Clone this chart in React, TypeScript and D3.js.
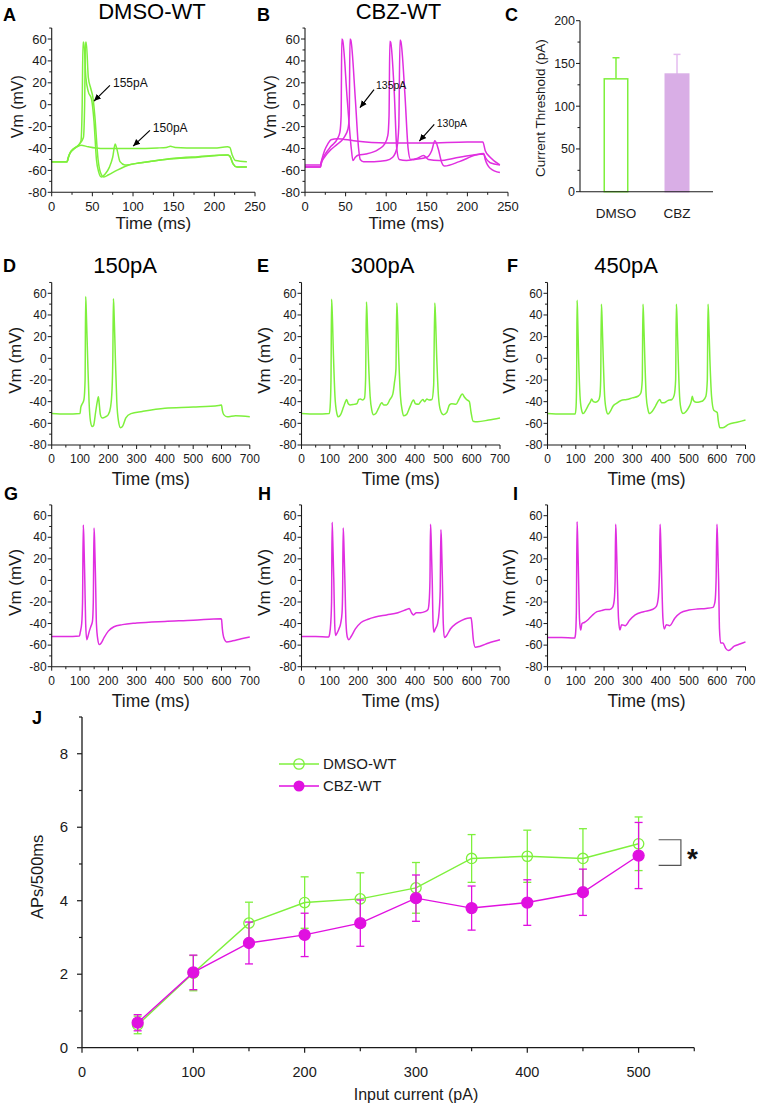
import React from "react";
import * as d3 from "d3";

type Pt = [number, number];

const FONT = '"Liberation Sans", Arial, Helvetica, sans-serif';
const GREEN = "#7ef03c";
const MAGENTA = "#e02ee0";
const J_MAGENTA = "#e010e0";
const INK = "#1a1a1a";

// ---------- Panel A: DMSO-WT threshold traces (t ms, Vm mV) ----------
const A_150pA: Pt[] = [[0,-52],[19,-52],[20,-50],[22,-45],[27,-40],[32,-38],[36,-37],[45,-38.5],[60,-40],[80,-40],[100,-40],[130,-39.5],[141,-39],[146,-38],[152,-39],[180,-39.5],[200,-39.5],[216,-38.5],[219,-39],[222,-46],[226,-51],[240,-52]];
const A_155pA_1: Pt[] = [[0,-52],[19,-52],[20,-49],[22,-45],[28,-40],[33,-37],[36,-33],[37.5,0],[38.5,57],[39.5,57],[42,25],[45,12],[49,5],[52,-15],[55,-50],[58,-62],[61,-66],[66,-63],[71,-57],[75,-48],[78,-36],[80,-40],[84,-52],[90,-55],[110,-53],[140,-50],[180,-48],[216,-46],[219,-47],[223,-54],[228,-57],[240,-57]];
const A_155pA_2: Pt[] = [[0,-52],[19,-52],[20,-49],[22,-45],[28,-40],[34,-36],[39,-30],[40.5,0],[41.5,57],[42.5,57],[45,25],[48,15],[51,5],[53,-10],[57,-50],[60,-62],[64,-66],[70,-64],[80,-60],[95,-55],[120,-52],[150,-49],[180,-47.5],[216,-46],[219,-47],[223,-54],[228,-57],[240,-57]];

// ---------- Panel B: CBZ-WT threshold traces ----------
const B_130pA: Pt[] = [[0,-55],[19,-55],[20,-52],[24,-42],[28,-36],[32,-32],[40,-31],[60,-33],[100,-35],[150,-35],[200,-34],[219,-34],[222,-42],[228,-48],[240,-55]];
const B_135pA_1: Pt[] = [[0,-57],[19,-57],[20,-53],[25,-45],[32,-38],[40,-31],[43,-25],[44.5,-10],[45.3,60],[46.3,59],[52,5],[57,-40],[59,-51],[62,-48],[66,-46],[75,-45],[90,-41],[98,-36],[102,-28],[103.5,-10],[104.5,58],[105.5,57],[110,10],[113,-40],[116,-50],[125,-51],[135,-50],[150,-48],[156,-42],[160,-33],[164,-40],[168,-52],[172,-56],[190,-52],[210,-46],[220,-44.5],[222,-50],[228,-58],[240,-62]];
const B_135pA_2: Pt[] = [[0,-57],[19,-57],[20,-54],[25,-47],[32,-41],[40,-36],[48,-30],[53,-22],[54.5,-10],[55.4,60],[56.4,59],[62,5],[66,-40],[68,-50],[72,-52],[85,-52],[100,-51],[108,-48],[113,-40],[115.5,-20],[117,59],[118,58],[123,10],[127,-40],[130,-50],[138,-49],[146,-46.5],[152,-50],[165,-51],[190,-48],[220,-45],[222,-48],[228,-53],[240,-55]];

// ---------- Panel C: current threshold ----------
const C_groups = ["DMSO", "CBZ"];
const C_means = [132, 137.6];
const C_sems = [24.7, 23];
const C_ticks = [0, 50, 100, 150, 200];

// ---------- Panels D-F: DMSO-WT at 150/300/450 pA ----------
const D_150pA: Pt[] = [[0,-51],[50,-51.5],[100,-51],[103,-45],[108,-42],[114,-38],[118,-20],[120,57],[122,45],[127,0],[132,-40],[137,-58],[143,-63],[148,-62],[155,-50],[161,-40],[165,-35.5],[168,-42],[172,-52],[178,-55],[190,-54],[200,-52],[208,-45],[213,-30],[216,0],[218,55],[220,45],[225,0],[230,-40],[236,-58],[243,-64],[250,-63],[262,-55],[280,-51],[320,-49],[400,-46],[500,-45],[590,-43.5],[600,-43],[603,-48],[608,-52],[620,-54],[650,-53],[700,-54]];
const E_300pA: Pt[] = [[0,-51],[50,-51.5],[98,-51],[101,-45],[104,-20],[106,54.5],[108,45],[113,0],[118,-35],[124,-50],[130,-54],[138,-52],[148,-45],[155,-40],[159,-38],[165,-42],[171,-43],[185,-42.5],[195,-42],[202,-38],[208,-37.5],[215,-38.5],[222,-37],[226,-20],[229,52],[231,42],[236,0],[242,-35],[248,-48],[254,-52],[262,-51],[272,-46],[283,-41],[290,-43],[300,-43],[312,-38],[322,-33],[328,-22],[333,-10],[336,51],[338,42],[343,0],[349,-35],[355,-48],[360,-53],[370,-52],[382,-45],[395,-38.5],[402,-42],[412,-42.5],[420,-40],[428,-38],[434,-40],[442,-37.5],[450,-38.5],[460,-38],[466,-25],[470,51],[472,42],[477,0],[483,-35],[490,-48],[500,-52],[512,-50],[522,-43],[530,-42],[545,-42.5],[555,-38],[567,-33],[575,-36],[582,-38],[592,-40],[598,-50],[605,-58],[620,-58.5],[660,-57],[700,-55]];
const F_450pA: Pt[] = [[0,-51],[50,-51.5],[98,-51.5],[101,-45],[103,-20],[104.5,53.6],[106,45],[110,0],[115,-35],[120,-47],[126,-51],[135,-48],[145,-43],[152,-40],[156,-37.5],[162,-40],[170,-40.5],[180,-39],[185,-35],[188,-20],[190.5,50],[192.5,40],[197,0],[202,-35],[208,-48],[214,-51.5],[222,-49],[232,-44],[244,-41.5],[260,-39],[280,-38],[300,-36.5],[320,-35],[330,-32],[335,-20],[337.5,50],[339.5,40],[344,0],[349,-35],[355,-47],[361,-51],[370,-49],[382,-44],[390,-40],[397,-38],[403,-41],[412,-41],[425,-39],[440,-38],[448,-34],[453,-20],[455.5,50],[457.5,40],[462,0],[467,-35],[473,-48],[479,-51],[490,-49],[500,-45],[508,-40],[512,-35],[516,-39],[525,-40.5],[540,-40],[550,-39],[560,-35],[565,-20],[567.5,50],[569.5,40],[574,0],[580,-35],[588,-48],[594,-49],[600,-50],[604,-58],[609,-64],[620,-64],[640,-61],[670,-59],[700,-57]];

// ---------- Panels G-I: CBZ-WT at 150/300/450 pA ----------
const G_150pA: Pt[] = [[0,-52],[50,-52],[98,-51.5],[101,-48],[106,-40],[109,-20],[111.5,51.4],[113.5,40],[117,0],[120,-40],[124,-55],[128,-52],[133,-47],[138,-43],[144,-38],[147,-20],[149.5,48.6],[151.5,38],[155,0],[158,-40],[163,-55],[168,-59.5],[175,-58],[185,-53],[200,-47],[220,-43],[250,-41],[300,-39.5],[400,-38],[500,-37],[598,-35.5],[600,-36],[603,-45],[608,-53],[618,-57],[640,-56],[670,-54],[700,-52.5]];
const H_300pA: Pt[] = [[0,-52],[50,-52],[96,-52.5],[99,-50],[103,-40],[106,-20],[108,54],[110,40],[114,0],[117,-40],[120,-51],[125,-49],[132,-45],[138,-40],[143,-30],[145,-10],[147,48.5],[149,38],[153,0],[157,-40],[162,-53],[167,-55],[175,-52],[190,-45],[210,-39],[235,-36],[260,-34],[300,-32],[340,-30],[370,-27],[380,-26],[388,-30],[395,-32],[405,-30],[420,-30],[435,-29],[446,-27],[450,-20],[453,0],[455,52],[457,40],[461,0],[464,-40],[467,-48],[472,-45],[480,-40],[485,-30],[489,-10],[491.5,47],[493.5,37],[497,0],[500,-40],[504,-53],[512,-51],[525,-45],[545,-40],[565,-37],[585,-35],[598,-34.5],[601,-40],[606,-55],[613,-62],[630,-61],[660,-58],[700,-55]];
const I_450pA: Pt[] = [[0,-53],[50,-53],[96,-53.5],[99,-50],[102,-30],[104.5,54.5],[106.5,40],[110,0],[113,-35],[117,-46],[122,-40],[130,-39],[145,-36],[160,-32],[175,-29],[190,-28],[205,-27],[220,-27],[230,-25],[236,-18],[239,0],[241,52],[243,40],[247,0],[251,-35],[256,-46],[262,-41],[275,-42],[290,-37],[310,-32],[340,-29],[370,-27],[385,-24],[392,-15],[396,10],[398,52],[400,40],[404,0],[408,-35],[413,-45],[420,-41],[432,-42],[450,-35],[470,-30],[500,-27.5],[530,-26.5],[560,-26],[585,-25],[592,-20],[596,0],[599,52],[601,40],[605,0],[608,-45],[612,-58],[620,-58],[630,-63],[640,-65],[660,-61],[680,-59],[700,-57]];

// ---------- Panel J: APs / 500 ms ----------
const J_currents = [50, 100, 150, 200, 250, 300, 350, 400, 450, 500];
const J_dmso = [0.62, 2.03, 3.39, 3.95, 4.05, 4.35, 5.15, 5.21, 5.15, 5.55];
const J_dmsoErr = [0.24, 0.48, 0.57, 0.7, 0.71, 0.69, 0.65, 0.71, 0.81, 0.73];
const J_cbz = [0.68, 2.05, 2.85, 3.07, 3.39, 4.07, 3.8, 3.95, 4.23, 5.23];
const J_cbzErr = [0.22, 0.47, 0.57, 0.59, 0.63, 0.63, 0.6, 0.62, 0.63, 0.9];
const J_xTicks = [0, 100, 200, 300, 400, 500];
const J_yTicks = [0, 2, 4, 6, 8];
const J_bracket = { x0: 518, x1: 538, yTop: 5.66, yBot: 4.96 };

const VM_TICKS = [-80, -60, -40, -20, 0, 20, 40, 60];
const VM_MINOR = [-70, -50, -30, -10, 10, 30, 50, 70];

type Ann = { label: string; from: Pt; to: Pt; text: Pt; size: number };
const A_ann: Ann[] = [
  { label: "155pA", from: [71.6, 17.6], to: [52, 3.3], text: [75.4, 20.4], size: 12 },
  { label: "150pA", from: [120.8, -23.5], to: [100.2, -37.8], text: [124.4, -20.7], size: 12 },
];
const B_ann: Ann[] = [
  { label: "135pA", from: [85, 13.7], to: [67.7, -2.7], text: [87.4, 17.6], size: 10.5 },
  { label: "130pA", from: [159.2, -18], to: [140.8, -33.2], text: [162.2, -16.8], size: 10.5 },
];

type TP = {
  x0: number; x1: number; yBot: number; y60: number;
  xMax: number; xStep: number; xMinorStep: number;
  traces: Pt[][]; color: string;
  tickFont: number; tickDy: number; labelDy: number; labelFont: number;
  vmDx: number; vmFont: number; ann?: Ann[];
};

function TracePanel(p: TP) {
  const x = d3.scaleLinear().domain([0, p.xMax]).range([p.x0, p.x1]);
  const y = d3.scaleLinear().domain([-80, 60]).range([p.yBot, p.y60]);
  const line = d3.line<Pt>().x((d) => x(d[0])).y((d) => y(d[1])).curve(d3.curveMonotoneX);
  const xMajor = d3.range(0, p.xMax + 1, p.xStep);
  const xMinor = d3.range(0, p.xMax + 1, p.xMinorStep).filter((v) => v % p.xStep !== 0);
  const yAxisX = x(0);
  const xAxisY = y(-80);
  return (
    <g>
      {p.traces.map((t, i) => (
        <path key={i} d={line(t) || ""} fill="none" stroke={p.color} strokeWidth={1.5} strokeLinejoin="round" />
      ))}
      <line x1={yAxisX} x2={yAxisX} y1={y(-80)} y2={y(70)} stroke={INK} strokeWidth={1.1} />
      <line x1={x(0)} x2={x(p.xMax)} y1={xAxisY} y2={xAxisY} stroke={INK} strokeWidth={1.1} />
      {VM_TICKS.map((v) => (
        <g key={"y" + v}>
          <line x1={yAxisX - 4} x2={yAxisX} y1={y(v)} y2={y(v)} stroke={INK} strokeWidth={1} />
          <text x={yAxisX - 5} y={y(v)} dy="0.35em" textAnchor="end" fontSize={p.tickFont} fill={INK}>{v}</text>
        </g>
      ))}
      {VM_MINOR.map((v) => (
        <line key={"ym" + v} x1={yAxisX - 2.5} x2={yAxisX} y1={y(v)} y2={y(v)} stroke={INK} strokeWidth={1} />
      ))}
      {xMajor.map((v) => (
        <g key={"x" + v}>
          <line x1={x(v)} x2={x(v)} y1={xAxisY} y2={xAxisY + 4} stroke={INK} strokeWidth={1} />
          <text x={x(v)} y={xAxisY + p.tickDy} textAnchor="middle" fontSize={p.tickFont} fill={INK}>{v}</text>
        </g>
      ))}
      {xMinor.map((v) => (
        <line key={"xm" + v} x1={x(v)} x2={x(v)} y1={xAxisY} y2={xAxisY + 2.5} stroke={INK} strokeWidth={1} />
      ))}
      <text x={(x(0) + x(p.xMax)) / 2} y={xAxisY + p.labelDy} textAnchor="middle" fontSize={p.labelFont} fill={INK}>Time (ms)</text>
      <text transform={`translate(${yAxisX + p.vmDx},${y(0) + 2}) rotate(-90)`} textAnchor="middle" dy="0.35em" fontSize={p.vmFont} fill={INK}>Vm (mV)</text>
      {(p.ann || []).map((a) => (
        <g key={a.label}>
          <line x1={x(a.from[0])} y1={y(a.from[1])} x2={x(a.to[0])} y2={y(a.to[1])} stroke="#000" strokeWidth={1.2} markerEnd="url(#arrowHead)" />
          <text x={x(a.text[0])} y={y(a.text[1])} dy="0.35em" fontSize={a.size} fill="#111">{a.label}</text>
        </g>
      ))}
    </g>
  );
}

function PanelC() {
  const x = d3.scalePoint<string>().domain(C_groups).range([580, 713]).padding(0.59);
  const y = d3.scaleLinear().domain([0, 200]).range([191.7, 20.7]);
  const bw = 23.5;
  const fills = ["#ffffff", "#d9aee6"];
  const strokes = [GREEN, "#d9aee6"];
  const errC = [GREEN, "#e4bcef"];
  const minor = [25, 75, 125, 175];
  return (
    <g>
      {C_groups.map((g, i) => {
        const cx = x(g) as number;
        return (
          <g key={g}>
            <line x1={cx} x2={cx} y1={y(C_means[i])} y2={y(C_means[i] + C_sems[i])} stroke={errC[i]} strokeWidth={1.5} />
            <line x1={cx - 3.5} x2={cx + 3.5} y1={y(C_means[i] + C_sems[i])} y2={y(C_means[i] + C_sems[i])} stroke={errC[i]} strokeWidth={1.5} />
            <rect x={cx - bw / 2} y={y(C_means[i])} width={bw} height={y(0) - y(C_means[i])} fill={fills[i]} stroke={strokes[i]} strokeWidth={1.5} />
            <text x={cx} y={218} textAnchor="middle" fontSize={13.5} fill={INK}>{g}</text>
          </g>
        );
      })}
      <line x1={580} x2={580} y1={y(0)} y2={y(200)} stroke={INK} strokeWidth={1.1} />
      <line x1={580} x2={713} y1={y(0)} y2={y(0)} stroke={INK} strokeWidth={1.1} />
      {C_ticks.map((v) => (
        <g key={v}>
          <line x1={576} x2={580} y1={y(v)} y2={y(v)} stroke={INK} />
          <text x={575} y={y(v)} dy="0.35em" textAnchor="end" fontSize={12.5} fill={INK}>{v}</text>
        </g>
      ))}
      {minor.map((v) => (
        <line key={v} x1={577.5} x2={580} y1={y(v)} y2={y(v)} stroke={INK} />
      ))}
      <text transform={`translate(540,${y(100) + 2}) rotate(-90)`} textAnchor="middle" dy="0.35em" fontSize={13.5} fill={INK}>Current Threshold (pA)</text>
    </g>
  );
}

function PanelJ() {
  const x = d3.scaleLinear().domain([0, 500]).range([82, 638.6]);
  const y = d3.scaleLinear().domain([0, 9]).range([1047.7, 717]);
  const line = d3.line<number>().x((_, i) => x(J_currents[i])).y((d) => y(d));
  const xMinor = d3.range(50, 551, 100);
  const yMinor = [1, 3, 5, 7, 9];
  const series = [
    { vals: J_dmso, err: J_dmsoErr, color: GREEN, filled: false },
    { vals: J_cbz, err: J_cbzErr, color: J_MAGENTA, filled: true },
  ];
  const ax = x(0);
  const ay = y(0);
  return (
    <g>
      {series.map((s, si) => (
        <g key={si}>
          {s.vals.map((v, i) => (
            <g key={i}>
              <line x1={x(J_currents[i])} x2={x(J_currents[i])} y1={y(v - s.err[i])} y2={y(v + s.err[i])} stroke={s.color} strokeWidth={1.3} />
              <line x1={x(J_currents[i]) - 4} x2={x(J_currents[i]) + 4} y1={y(v + s.err[i])} y2={y(v + s.err[i])} stroke={s.color} strokeWidth={1.3} />
              <line x1={x(J_currents[i]) - 4} x2={x(J_currents[i]) + 4} y1={y(v - s.err[i])} y2={y(v - s.err[i])} stroke={s.color} strokeWidth={1.3} />
            </g>
          ))}
          <path d={line(s.vals) || ""} fill="none" stroke={s.color} strokeWidth={1.4} />
          {s.vals.map((v, i) => (
            <circle key={"c" + i} cx={x(J_currents[i])} cy={y(v)} r={s.filled ? 5.5 : 5.2}
              fill={s.filled ? s.color : "none"} stroke={s.color} strokeWidth={1.3} />
          ))}
        </g>
      ))}
      <line x1={ax} x2={ax} y1={ay} y2={y(9)} stroke={INK} strokeWidth={1.3} />
      <line x1={ax} x2={x(550)} y1={ay} y2={ay} stroke={INK} strokeWidth={1.3} />
      {J_yTicks.map((v) => (
        <g key={v}>
          <line x1={ax - 5} x2={ax} y1={y(v)} y2={y(v)} stroke={INK} strokeWidth={1.2} />
          <text x={68} y={y(v)} dy="0.35em" textAnchor="end" fontSize={15} fill={INK}>{v}</text>
        </g>
      ))}
      {yMinor.map((v) => (
        <line key={v} x1={ax - 3} x2={ax} y1={y(v)} y2={y(v)} stroke={INK} strokeWidth={1.2} />
      ))}
      {J_xTicks.map((v) => (
        <g key={v}>
          <line x1={x(v)} x2={x(v)} y1={ay} y2={ay + 5} stroke={INK} strokeWidth={1.2} />
          <text x={x(v)} y={1077} textAnchor="middle" fontSize={14.5} fill={INK}>{v}</text>
        </g>
      ))}
      {xMinor.map((v) => (
        <line key={v} x1={x(v)} x2={x(v)} y1={ay} y2={ay + 3.5} stroke={INK} strokeWidth={1.2} />
      ))}
      <text x={x(300)} y={1100} textAnchor="middle" fontSize={16} fill={INK}>Input current (pA)</text>
      <text transform={`translate(37,${y(4.65)}) rotate(-90)`} textAnchor="middle" dy="0.35em" fontSize={16.5} fill={INK}>APs/500ms</text>
      {/* legend */}
      <line x1={279} x2={319} y1={764} y2={764} stroke={GREEN} strokeWidth={1.4} />
      <circle cx={299} cy={764} r={5.2} fill="none" stroke={GREEN} strokeWidth={1.3} />
      <text x={323} y={764} dy="0.35em" fontSize={15} fill={INK}>DMSO-WT</text>
      <line x1={279} x2={319} y1={786} y2={786} stroke={J_MAGENTA} strokeWidth={1.4} />
      <circle cx={299} cy={786} r={5.5} fill={J_MAGENTA} />
      <text x={323} y={786} dy="0.35em" fontSize={15} fill={INK}>CBZ-WT</text>
      {/* significance bracket */}
      <path d={`M${x(J_bracket.x0)},${y(J_bracket.yTop)}H${x(J_bracket.x1)}V${y(J_bracket.yBot)}H${x(J_bracket.x0)}`} fill="none" stroke="#555" strokeWidth={1.2} />
      <text x={x(J_bracket.x1) + 6} y={y((J_bracket.yTop + J_bracket.yBot) / 2) + 15.5} fontSize={28} fontWeight="bold" fill="#111">*</text>
    </g>
  );
}

const letterStyle = { fontSize: 18, fontWeight: 700 as const, fill: "#000" };

export default function App() {
  const common = { tickFont: 12, vmFont: 17 };
  return (
    <svg width={757} height={1108} style={{ position: "absolute", left: 0, top: 0, background: "#fff" }}
      fontFamily={FONT}>
      <defs>
        <marker id="arrowHead" markerUnits="userSpaceOnUse" markerWidth={8} markerHeight={8} refX={7} refY={4} orient="auto">
          <path d="M0,0.8 L7,4 L0,7.2 Z" fill="#000" />
        </marker>
      </defs>
      <rect width={757} height={1108} fill="#fff" />

      {/* Panel letters and titles */}
      <text x={3} y={21} {...letterStyle}>A</text>
      <text x={257} y={21} {...letterStyle}>B</text>
      <text x={505} y={21} {...letterStyle}>C</text>
      <text x={3} y={272} {...letterStyle}>D</text>
      <text x={257} y={272} {...letterStyle}>E</text>
      <text x={507} y={272} {...letterStyle}>F</text>
      <text x={4} y={500} {...letterStyle}>G</text>
      <text x={258} y={500} {...letterStyle}>H</text>
      <text x={513} y={500} {...letterStyle}>I</text>
      <text x={32} y={724} {...letterStyle}>J</text>

      <text x={152} y={18.5} textAnchor="middle" fontSize={22} fill="#000">DMSO-WT</text>
      <text x={398.5} y={18.5} textAnchor="middle" fontSize={22} fill="#000">CBZ-WT</text>
      <text x={125} y={272.5} textAnchor="middle" fontSize={22} fill="#000">150pA</text>
      <text x={382.5} y={272.5} textAnchor="middle" fontSize={22} fill="#000">300pA</text>
      <text x={626} y={272.5} textAnchor="middle" fontSize={22} fill="#000">450pA</text>

      <TracePanel x0={51.7} x1={255} yBot={192.3} y60={39} xMax={250} xStep={50} xMinorStep={25}
        traces={[A_150pA, A_155pA_1, A_155pA_2]} color={GREEN} tickFont={13} tickDy={18.5} labelDy={37}
        labelFont={17} vmDx={-34} vmFont={16} ann={A_ann} />
      <TracePanel x0={305} x1={508} yBot={192.3} y60={39} xMax={250} xStep={50} xMinorStep={25}
        traces={[B_130pA, B_135pA_1, B_135pA_2]} color={MAGENTA} tickFont={13} tickDy={18.5} labelDy={37}
        labelFont={17} vmDx={-35} vmFont={16} ann={B_ann} />
      <PanelC />

      <TracePanel x0={51.7} x1={249.8} yBot={445} y60={293.3} xMax={700} xStep={100} xMinorStep={50}
        traces={[D_150pA]} color={GREEN} {...common} tickDy={18} labelDy={40} labelFont={17.5} vmDx={-37} />
      <TracePanel x0={301.5} x1={500} yBot={445} y60={293.3} xMax={700} xStep={100} xMinorStep={50}
        traces={[E_300pA]} color={GREEN} {...common} tickDy={18} labelDy={40} labelFont={17.5} vmDx={-37} />
      <TracePanel x0={547.5} x1={745.5} yBot={445} y60={293.3} xMax={700} xStep={100} xMinorStep={50}
        traces={[F_450pA]} color={GREEN} {...common} tickDy={18} labelDy={40} labelFont={17.5} vmDx={-38} />

      <TracePanel x0={51.7} x1={249.8} yBot={666.7} y60={515.7} xMax={700} xStep={100} xMinorStep={50}
        traces={[G_150pA]} color={MAGENTA} {...common} tickDy={18.5} labelDy={40} labelFont={17.5} vmDx={-37} />
      <TracePanel x0={301.5} x1={500} yBot={666.7} y60={515.7} xMax={700} xStep={100} xMinorStep={50}
        traces={[H_300pA]} color={MAGENTA} {...common} tickDy={18.5} labelDy={40} labelFont={17.5} vmDx={-37} />
      <TracePanel x0={547.5} x1={745.5} yBot={666.7} y60={515.7} xMax={700} xStep={100} xMinorStep={50}
        traces={[I_450pA]} color={MAGENTA} {...common} tickDy={18.5} labelDy={40} labelFont={17.5} vmDx={-38} />

      <PanelJ />
    </svg>
  );
}
